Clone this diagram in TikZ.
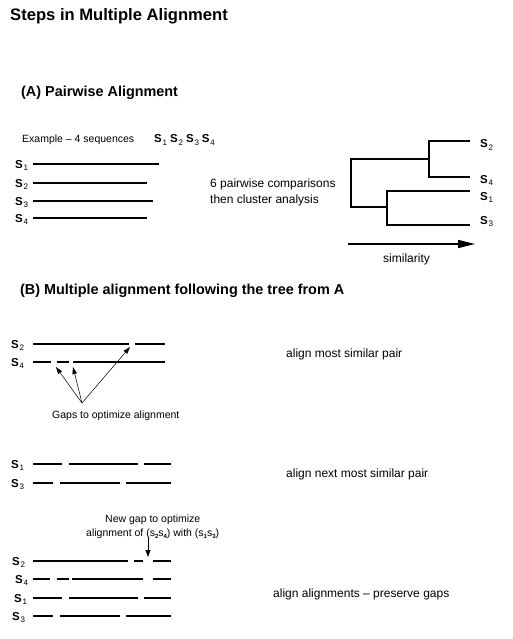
\documentclass[tikz,border=0pt]{standalone}
\usepackage{fontspec}
\setmainfont{Liberation Sans}
\usetikzlibrary{arrows.meta}
\newcommand{\sq}[1]{\textbf{S}\kern0.8pt\raisebox{-2.2pt}{\fontsize{8}{8}\selectfont #1}}
\newcommand{\ssq}[1]{s\raisebox{-2pt}{\fontsize{6}{6}\selectfont\bfseries #1}}
\begin{document}
\begin{tikzpicture}[x=1pt,y=-1pt,
  txt/.style={inner sep=0pt,anchor=base west,font=\fontsize{10.5}{12}\selectfont},
  txtb/.style={inner sep=0pt,anchor=base west,font=\fontsize{12}{14}\selectfont},
  head/.style={inner sep=0pt,anchor=base west,font=\fontsize{14.4}{16}\selectfont\bfseries},
  lab/.style={inner sep=0pt,anchor=base west,font=\fontsize{11.5}{13}\selectfont},
  seq/.style={line width=2pt},
  tree/.style={line width=2pt},
  thinarrow/.style={line width=0.5pt,-{Triangle[length=7pt,width=4.5pt]}}]
\useasboundingbox (0,0) rectangle (513,639);
% titles
\node[inner sep=0pt,anchor=base west,font=\fontsize{16.6}{19}\selectfont\bfseries] (title) at (10,21) {Steps in Multiple Alignment};
\node[head] (hA) at (21,97) {(A) Pairwise Alignment};
\node[head] (hB) at (20,294) {(B) Multiple alignment following the tree from A};
% (A) example
\node[txt] (ex) at (22,143) {Example -- 4 sequences};
\node[lab] (exs) at (154,143) {\sq{1}\hspace{3pt}\sq{2}\hspace{3pt}\sq{3}\hspace{3pt}\sq{4}};
\foreach \n/\y/\e in {1/164/159,2/183/147,3/201/153,4/218/147}{
  \node[lab] (la\n) at (15,\y+4) {\sq{\n}};
  \draw[seq] (33,\y) -- (\e,\y);
}
\node[txtb] (pw1) at (210,187) {6 pairwise comparisons};
\node[txtb] (pw2) at (210,203) {then cluster analysis};
% tree
\draw[tree] (470,141) -- (429,141) -- (429,177) -- (470,177);
\draw[tree] (470,191) -- (387,191) -- (387,225) -- (470,225);
\draw[tree] (429,159) -- (351,159) -- (351,207) -- (387,207);
\node[lab] (t2) at (480,148) {\sq{2}};
\node[lab] (t4) at (480,183) {\sq{4}};
\node[lab] (t1) at (480,200) {\sq{1}};
\node[lab] (t3) at (480,224) {\sq{3}};
\coordinate (sa) at (348,244);
\coordinate (sb) at (475,244);
\draw[line width=1.6pt,-{Triangle[length=17pt,width=8pt]}] (sa) -- (sb);
\node[txtb] (sim) at (383,262) {similarity};
% (B) step 1
\node[lab] (b2) at (11,348) {\sq{2}};
\node[lab] (b4) at (11,366) {\sq{4}};
\draw[seq] (33,344) -- (129,344) (135,344) -- (165,344);
\draw[seq] (33,362) -- (51,362) (57,362) -- (69,362) (73,362) -- (165,362);
\coordinate (g) at (82,403);
\coordinate (g1) at (56,367);
\coordinate (g2) at (73,367);
\coordinate (g3) at (130,347);
\draw[thinarrow] (g) -- (g1);
\draw[thinarrow] (g) -- (g2);
\draw[thinarrow] (g) -- (g3);
\node[txt] (gaps) at (52,418) {Gaps to optimize alignment};
\node[txtb] (st1) at (286,357) {align most similar pair};
% step 2
\node[lab] (c1) at (11,468) {\sq{1}};
\node[lab] (c3) at (11,487) {\sq{3}};
\draw[seq] (33,464) -- (62,464) (69,464) -- (138,464) (144,464) -- (171,464);
\draw[seq] (33,483) -- (53,483) (60,483) -- (120,483) (126,483) -- (171,483);
\node[txtb] (st2) at (286,477) {align next most similar pair};
% step 3
\node[txt] (ng1) at (105,522) {New gap to optimize};
\node[txt] (ng2) at (86,536) {alignment of (\ssq{2}\ssq{4}) with (\ssq{1}\ssq{3})};
\coordinate (na) at (148,537);
\coordinate (nb) at (148,557);
\draw[line width=0.8pt,-{Triangle[length=7pt,width=5pt]}] (na) -- (nb);
\node[lab] (d2) at (12,565) {\sq{2}};
\node[lab] (d4) at (15,583) {\sq{4}};
\node[lab] (d1) at (14,602) {\sq{1}};
\node[lab] (d3) at (12,620) {\sq{3}};
\draw[seq] (33,561) -- (128,561) (134,561) -- (143,561) (153,561) -- (171,561);
\draw[seq] (33,579) -- (50,579) (57,579) -- (69,579) (72,579) -- (143,579) (153,579) -- (171,579);
\draw[seq] (33,598) -- (62,598) (69,598) -- (138,598) (144,598) -- (171,598);
\draw[seq] (33,616) -- (53,616) (60,616) -- (120,616) (126,616) -- (171,616);
\node[txtb] (st3) at (273,597) {align alignments -- preserve gaps};
\end{tikzpicture}
\end{document}
